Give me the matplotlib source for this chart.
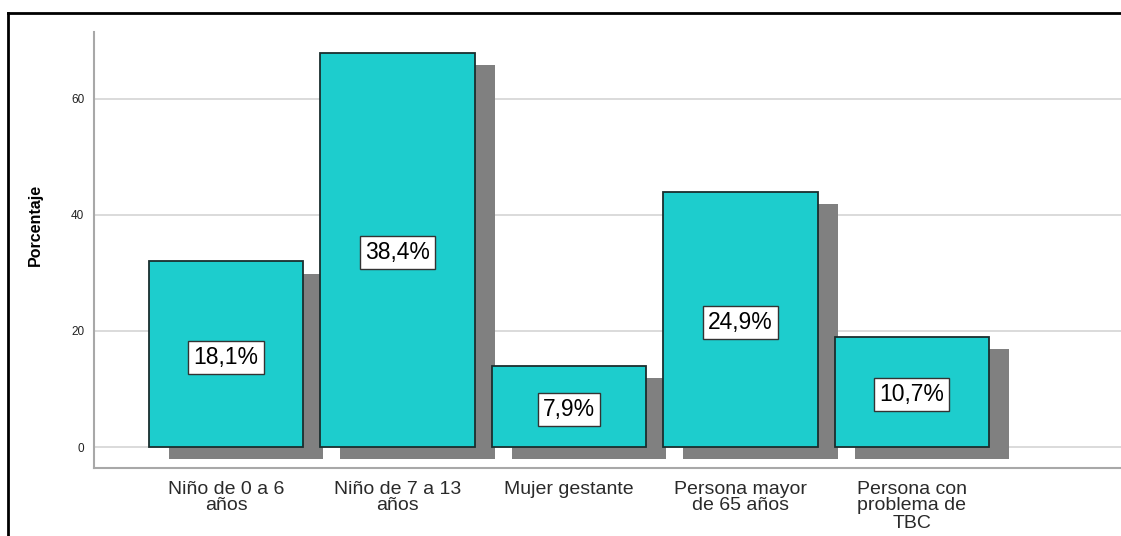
import matplotlib
matplotlib.use("Agg")
import matplotlib.pyplot as plt
import numpy as np
from matplotlib.lines import Line2D

categories = ["Niño de 0 a 6\naños", "Niño de 7 a 13\naños", "Mujer gestante",
              "Persona mayor\nde 65 años", "Persona con\nproblema de\nTBC"]
counts = [32, 68, 14, 44, 19]
yticks = [0, 20, 40, 60]

plt.rcParams["font.family"] = ["Liberation Sans", "DejaVu Sans"]

BAR = "#1DCDCD"
SHADOW = "#808080"

fig = plt.figure(figsize=(11.21, 5.36), dpi=100, facecolor="white")
ax = fig.add_axes([94 / 1121, 68 / 536, 1027 / 1121, 436 / 536])

x = np.arange(len(categories))
width = 0.9
# drop shadow offset (data units)
dx, dy = 0.117, -2.1
ax.bar(x + dx, counts, width, bottom=dy, color=SHADOW, zorder=2, linewidth=0)
ax.bar(x, counts, width, color=BAR, edgecolor="#1a2e2e", linewidth=1.3, zorder=3)

total = sum(counts)
for xi, c in zip(x, counts):
    pct = f"{c / total * 100:.1f}".replace(".", ",") + "%"
    ax.text(xi, c / 2 - 0.5, pct, ha="center", va="center", fontsize=16.5, zorder=5,
            bbox=dict(boxstyle="square,pad=0.22", facecolor="white", edgecolor="#333333", linewidth=1))

ax.set_xlim(-0.77, 5.22)
ax.set_ylim(-3.62, 71.55)
ax.set_yticks(yticks)
ax.set_xticks(x)
ax.set_xticklabels(categories, fontsize=14, linespacing=1.0)
ax.tick_params(axis="x", length=0, pad=9, colors="#2a2a2a")
ax.tick_params(axis="y", length=0, pad=7, labelsize=8.5, colors="#222222")
ax.yaxis.grid(True, color="#d4d4d4", linewidth=1.2, zorder=0)
ax.set_axisbelow(True)
for s in ["top", "right"]:
    ax.spines[s].set_visible(False)
for s in ["left", "bottom"]:
    ax.spines[s].set_color("#a8a8a8")
    ax.spines[s].set_linewidth(1.5)

ax.set_ylabel("Porcentaje", fontsize=11.5, fontweight="bold")
ax.yaxis.set_label_coords(-0.05, 0.557)

# outer frame (only top and left edges visible in the crop)
fig.add_artist(Line2D([8 / 1121, 1], [1 - 12.5 / 536] * 2, transform=fig.transFigure, color="black", linewidth=2))
fig.add_artist(Line2D([8 / 1121] * 2, [0, 1 - 12.5 / 536], transform=fig.transFigure, color="black", linewidth=2))

fig.savefig("out.png", dpi=100, facecolor="white")
